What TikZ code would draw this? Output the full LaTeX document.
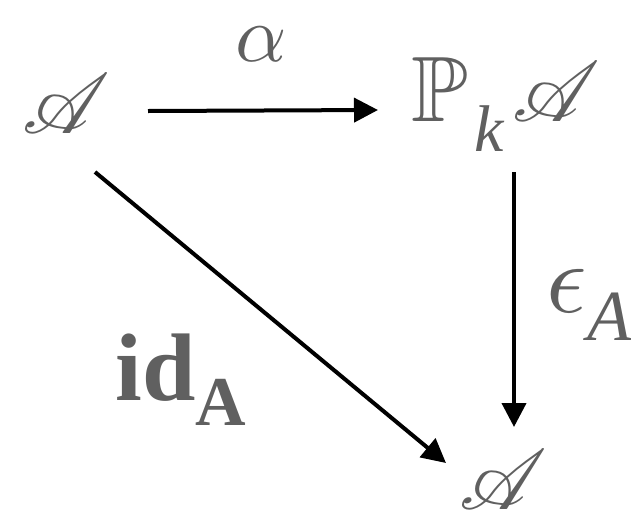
\documentclass[tikz,border=0pt]{standalone}
\usepackage{amssymb}
\usepackage{mathrsfs}
\usepackage{fontspec}
\setmainfont{Liberation Serif}
\usetikzlibrary{arrows.meta}
\definecolor{txt}{HTML}{606060}
\newcommand{\scrA}{\scalebox{8.5}{$\mathscr{A}$}}
\tikzset{
  lbl/.style={text=txt, inner sep=0pt, anchor=center},
  arr/.style={line width=4pt, -{Triangle[length=24pt,width=24pt]}, black}
}
\begin{document}
\begin{tikzpicture}[x=1pt,y=-1pt]
\useasboundingbox (0,0) rectangle (631,520);
\node[lbl] (A1) at (66,104) {\scrA};
\node[lbl] (al) at (261,44) {\scalebox{8}{$\alpha$}};
\node[lbl] (B) at (506,104) {\scalebox{9.3}{$\mathbb{P}$}\hspace{6pt}\raisebox{-30pt}{\fontsize{66}{66}\selectfont\textit{k}}\hspace{8pt}\scrA};
\node[lbl] (A3) at (503,480) {\scrA};
\node[lbl] (eps) at (589,305) {\scalebox{10}{$\epsilon$}\raisebox{-28pt}{\fontsize{72}{72}\selectfont\textit{A}}};
\node[lbl] (id) at (181,380) {\fontsize{96}{96}\selectfont\textbf{id}\raisebox{-25pt}{\fontsize{70}{70}\selectfont\textbf{A}}};
\draw[arr] ([shift={(82,7)}]A1.center) -- ([shift={(-128,6)}]B.center);
\draw[arr] ([shift={(8,68)}]B.center) -- ([shift={(11,-53)}]A3.center);
\draw[arr] ([shift={(29,68)}]A1.center) -- ([shift={(-57,-17)}]A3.center);
\end{tikzpicture}
\end{document}
